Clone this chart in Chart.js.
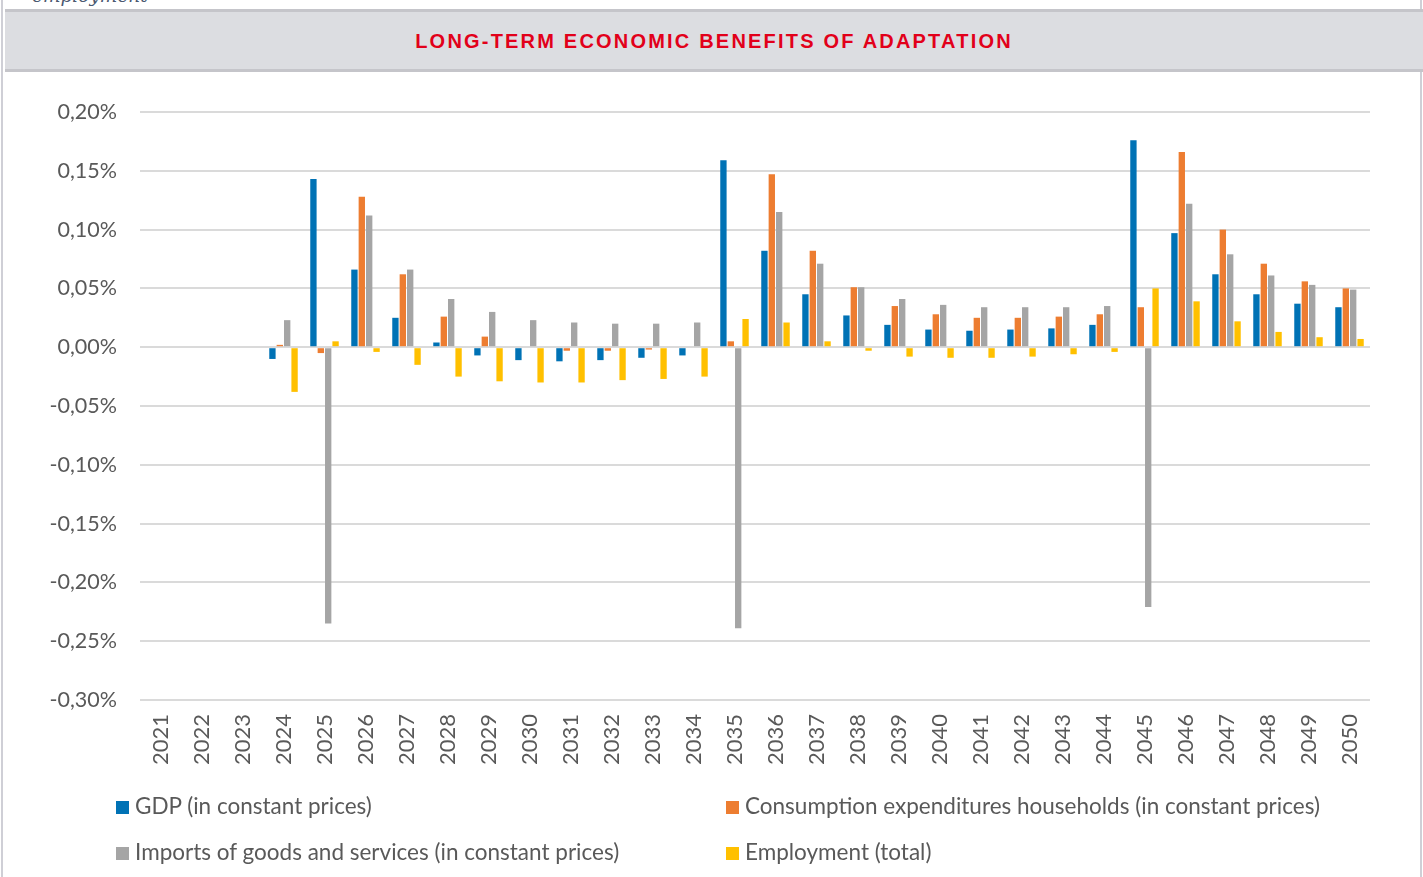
<!DOCTYPE html>
<html>
<head>
<meta charset="utf-8">
<script src="https://cdn.jsdelivr.net/npm/chart.js@4/dist/chart.umd.min.js"></script>
<style>
  html, body { margin:0; padding:0; background:#fff; }
  body { width:1423px; height:877px; position:relative; overflow:hidden; font-family: Lato, "Open Sans", sans-serif; }
  #frameL { position:absolute; left:1px; top:0; width:2px; height:877px; background:#cfcfd6; }
  #frameR { position:absolute; left:1420px; top:0; width:2px; height:877px; background:#cfcfd6; }
  #topnote { position:absolute; left:32px; top:-15px; font-family:"DejaVu Serif", serif; font-style:italic; font-size:18.5px; color:#4a5870; }
  #titlebar { position:absolute; left:5px; top:9px; width:1418px; height:57px; background:#dcdde1;
              border-top:3px solid #c5c5ca; border-bottom:3px solid #c5c5ca; }
  #title { position:absolute; left:0; right:0; top:1px; height:57px; line-height:57px; text-align:center;
           font-family:"Liberation Sans", Arial, sans-serif; font-weight:bold; font-size:20px; letter-spacing:2.2px; color:#e2001a; }
  #chart { position:absolute; left:0; top:0; }
  .leg { position:absolute; font-size:22.5px; color:#595959; white-space:nowrap; line-height:24px; }
  .leg span.box { display:inline-block; width:13px; height:13px; margin-right:6px; vertical-align:0px; }
</style>
</head>
<body>
<div id="frameL"></div>
<div id="frameR"></div>
<div id="topnote">employment</div>
<div id="titlebar"><div id="title">LONG-TERM ECONOMIC BENEFITS OF ADAPTATION</div></div>
<canvas id="chart" width="1423" height="877"></canvas>
<div id="legend"></div>
<script>
const years = ['2021','2022','2023','2024','2025','2026','2027','2028','2029','2030',
               '2031','2032','2033','2034','2035','2036','2037','2038','2039','2040',
               '2041','2042','2043','2044','2045','2046','2047','2048','2049','2050'];

const seriesNames = [
  'GDP (in constant prices)',
  'Consumption expenditures households (in constant prices)',
  'Imports of goods and services (in constant prices)',
  'Employment (total)'
];

const gdp = [null, null, null, -0.010, 0.143, 0.066, 0.025, 0.004, -0.007, -0.011,
             -0.012, -0.011, -0.009, -0.007, 0.159, 0.082, 0.045, 0.027, 0.019, 0.015,
             0.014, 0.015, 0.016, 0.019, 0.176, 0.097, 0.062, 0.045, 0.037, 0.034];

const consumption = [null, null, null, 0.002, -0.005, 0.128, 0.062, 0.026, 0.009, 0.000,
                     -0.003, -0.003, -0.002, 0.000, 0.005, 0.147, 0.082, 0.051, 0.035, 0.028,
                     0.025, 0.025, 0.026, 0.028, 0.034, 0.166, 0.100, 0.071, 0.056, 0.050];

const imports = [null, null, null, 0.023, -0.235, 0.112, 0.066, 0.041, 0.030, 0.023,
                 0.021, 0.020, 0.020, 0.021, -0.239, 0.115, 0.071, 0.051, 0.041, 0.036,
                 0.034, 0.034, 0.034, 0.035, -0.221, 0.122, 0.079, 0.061, 0.053, 0.049];

const employment = [null, null, null, -0.038, 0.005, -0.004, -0.015, -0.025, -0.029, -0.030,
                    -0.030, -0.028, -0.027, -0.025, 0.024, 0.021, 0.005, -0.003, -0.008, -0.009,
                    -0.009, -0.008, -0.006, -0.004, 0.050, 0.039, 0.022, 0.013, 0.0085, 0.007];

const colors = ['#0072b5', '#ed7d31', '#a5a5a5', '#ffc000'];
const allSeries = [gdp, consumption, imports, employment];

const yMin = -0.30, yMax = 0.20, yStep = 0.05;

function fmtPct(v) {
  let s = v.toFixed(2);
  if (s === '-0.00') s = '0.00';
  return s.replace('.', ',') + '%';
}

new Chart(document.getElementById('chart'), {
  type: 'bar',
  data: {
    labels: years,
    datasets: allSeries.map((d, i) => ({
      label: seriesNames[i],
      data: d,
      backgroundColor: colors[i],
      borderWidth: 0,
      categoryPercentage: 0.72,
      barPercentage: 0.86
    }))
  },
  options: {
    responsive: false,
    animation: false,
    layout: { padding: { top: 112, left: 0, right: 53, bottom: 0 } },
    plugins: { legend: { display: false }, tooltip: { enabled: false } },
    scales: {
      x: {
        grid: { display: false, drawTicks: false },
        border: { display: false },
        ticks: { color: '#595959', font: { family: 'Lato', size: 22 }, minRotation: 90, maxRotation: 90, padding: 14, autoSkip: false },
        afterFit: (s) => { s.height = 177; }
      },
      y: {
        min: yMin, max: yMax,
        grid: { color: '#dadada', lineWidth: 2, drawTicks: false },
        border: { display: false },
        ticks: { stepSize: yStep, color: '#595959', font: { family: 'Lato', size: 21.5 }, padding: 23, callback: (v) => fmtPct(v) },
        afterFit: (s) => { s.width = 140; }
      }
    }
  }
});

// HTML legend in two columns
const legPos = [[116, 794], [726, 794], [116, 840], [726, 840]];
const legendEl = document.getElementById('legend');
seriesNames.forEach((n, i) => {
  const d = document.createElement('div');
  d.className = 'leg';
  d.style.left = legPos[i][0] + 'px';
  d.style.top = legPos[i][1] + 'px';
  d.innerHTML = '<span class="box" style="background:' + colors[i] + '"></span>' + n;
  legendEl.appendChild(d);
});
</script>
</body>
</html>
